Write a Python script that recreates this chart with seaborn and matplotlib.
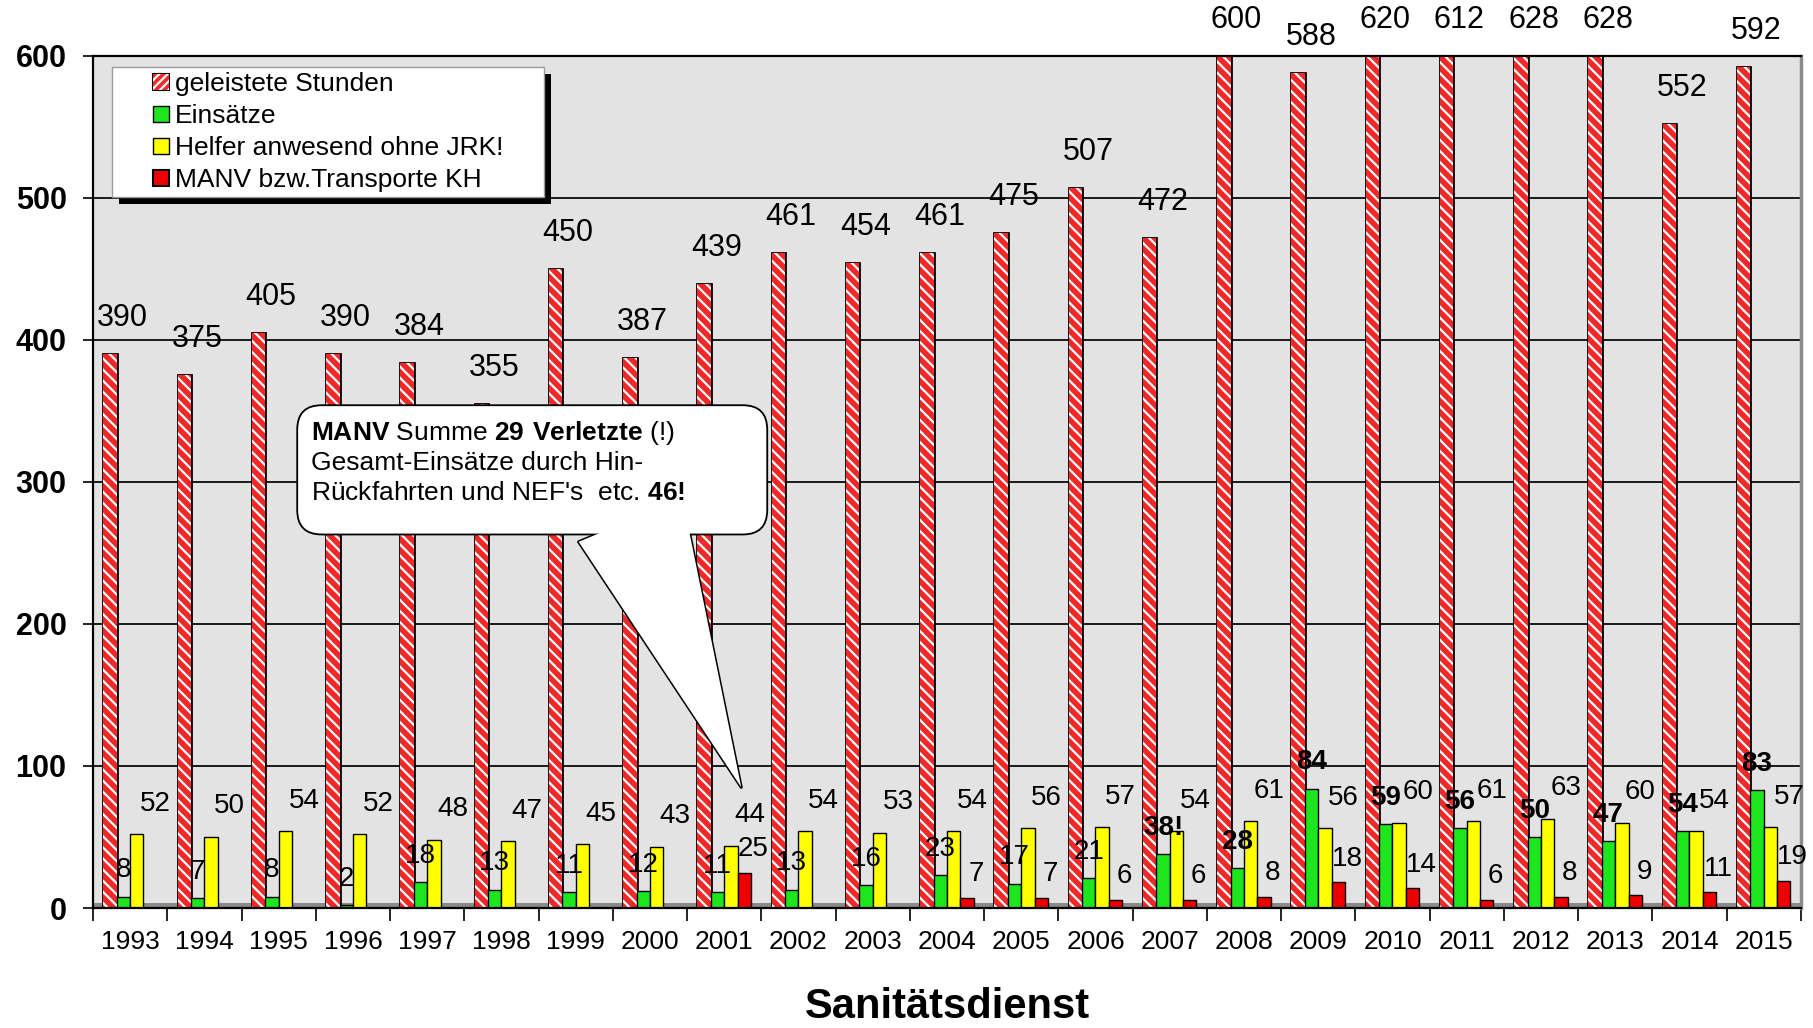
import matplotlib
matplotlib.use("Agg")
import matplotlib.pyplot as plt
import numpy as np
import pandas as pd
import seaborn as sns
from matplotlib import patheffects as pe
from matplotlib.patches import Patch, Rectangle, FancyBboxPatch
from matplotlib.legend_handler import HandlerPatch

# ---------------- data ----------------
years = ["1993", "1994", "1995", "1996", "1997", "1998", "1999", "2000", "2001", "2002",
         "2003", "2004", "2005", "2006", "2007", "2008", "2009", "2010", "2011", "2012",
         "2013", "2014", "2015"]
series = ["geleistete Stunden", "Einsätze", "Helfer anwesend ohne JRK!", "MANV bzw.Transporte KH"]
stunden = [390, 375, 405, 390, 384, 355, 450, 387, 439, 461, 454, 461, 475, 507, 472,
           600, 588, 620, 612, 628, 628, 552, 592]
einsaetze = [8, 7, 8, 2, 18, 13, 11, 12, 11, 13, 16, 23, 17, 21, 38, 28, 84, 59, 56, 50, 47, 54, 83]
einsaetze_labels = ["8", "7", "8", "2", "18", "13", "11", "12", "11", "13", "16", "23", "17",
                    "21", "38!", "28", "84", "59", "56", "50", "47", "54", "83"]
einsaetze_bold = [False, False, False, False, False, False, False, False, False, False, False,
                  False, False, False, True, True, True, True, True, True, True, True, True]
helfer = [52, 50, 54, 52, 48, 47, 45, 43, 44, 54, 53, 54, 56, 57, 54, 61, 56, 60, 61, 63, 60, 54, 57]
manv = [0, 0, 0, 0, 0, 0, 0, 0, 25, 0, 0, 7, 7, 6, 6, 8, 18, 14, 6, 8, 9, 11, 19]
yticks = [0, 100, 200, 300, 400, 500, 600]
title = "Sanitätsdienst"

df = pd.DataFrame({
    "Jahr": years * 4,
    "Serie": [s for s in series for _ in years],
    "Wert": stunden + einsaetze + helfer + manv,
})

# ---------------- style ----------------
plt.rcParams["font.family"] = ["Liberation Sans", "DejaVu Sans"]
plt.rcParams["mathtext.fontset"] = "custom"
plt.rcParams["mathtext.rm"] = "Liberation Sans"
plt.rcParams["mathtext.bf"] = "Liberation Sans:bold"
plt.rcParams["hatch.linewidth"] = 1.6

C_STD = "#f02828"
C_GREEN = "#1ee61e"
C_YELLOW = "#ffff00"
C_RED = "#ee0000"
palette = [C_STD, C_GREEN, C_YELLOW, C_RED]

W, H = 1813, 1028
fig = plt.figure(figsize=(W / 100, H / 100), dpi=100)
ax_rect = [0.0513, 0.1167, 0.942, 0.829]
ax = fig.add_axes(ax_rect)
ax.set_facecolor("#e3e3e3")

sns.barplot(data=df, x="Jahr", y="Wert", hue="Serie", order=years, hue_order=series,
            palette=palette, width=0.72, saturation=1, edgecolor="black", linewidth=1,
            errorbar=None, legend=False, ax=ax)

ax.set_xlim(-0.5, len(years) - 0.5)
ax.set_ylim(0, 600)

stroke = [pe.Stroke(linewidth=2, foreground="black"), pe.Normal()]
cont = ax.containers
for bar in cont[0]:
    bar.set_hatch("\\\\\\")
    bar.set_edgecolor("white")
    bar.set_linewidth(0)
    bar.set_path_effects(stroke)
for bar in cont[3]:
    if bar.get_height() == 0:
        bar.set_visible(False)

# floor and grid
ax.axhspan(0, 3.5, color="#8a8a8a", zorder=0.6, lw=0)
ax.set_axisbelow(True)
ax.yaxis.grid(True, color="#1a1a1a", lw=1.4)
ax.xaxis.grid(False)

# ticks
ax.set_yticks(yticks)
ax.set_yticklabels([str(t) for t in yticks], fontsize=22, fontweight="bold")
ax.tick_params(axis="y", length=7, width=1.2, pad=12)
ax.set_xticks(range(len(years)))
ax.set_xticklabels(years, fontsize=19)
ax.set_xticks(np.arange(-0.5, len(years), 1.0), minor=True)
ax.tick_params(axis="x", which="major", length=0, pad=16)
ax.tick_params(axis="x", which="minor", length=9, width=1.2)
ax.set_xlabel("")
ax.set_ylabel("")

for s in ["left", "bottom", "top"]:
    ax.spines[s].set_color("black")
    ax.spines[s].set_linewidth(1.6)
ax.spines["right"].set_color("#8a8a8a")
ax.spines["right"].set_linewidth(2.5)

# ---------------- value labels ----------------
ymax = ax.get_ylim()[1]
def bar_center(b):
    return b.get_x() + b.get_width() / 2

for b, v in zip(cont[0], stunden):
    ax.annotate(str(v), (bar_center(b) + 0.17, min(v, ymax)), xytext=(0, 26),
                textcoords="offset points", ha="center", va="center", fontsize=22,
                annotation_clip=False, zorder=8)
for b, v, t, bold in zip(cont[1], einsaetze, einsaetze_labels, einsaetze_bold):
    ax.annotate(t, (bar_center(b) + 0.0, v), xytext=(0, 19),
                textcoords="offset points", ha="center", va="center", fontsize=20,
                fontweight="bold" if bold else "normal", annotation_clip=False, zorder=8)
for b, v in zip(cont[2], helfer):
    ax.annotate(str(v), (bar_center(b) + 0.25, v), xytext=(0, 22),
                textcoords="offset points", ha="center", va="center", fontsize=20,
                annotation_clip=False, zorder=8)
for b, v in zip(cont[3], manv):
    if v > 0:
        ax.annotate(str(v), (bar_center(b) + 0.12, v), xytext=(0, 17),
                    textcoords="offset points", ha="center", va="center", fontsize=20,
                    annotation_clip=False, zorder=8)

# ---------------- legend ----------------
def square_right(legend, orig_handle, xdescent, ydescent, width, height, fontsize):
    s = height
    return Rectangle((width - s - xdescent, -ydescent), s, s)

handles = [
    Patch(facecolor=C_STD, edgecolor="white", hatch="////", linewidth=0,
          path_effects=[pe.Stroke(linewidth=1.5, foreground="black"), pe.Normal()]),
    Patch(facecolor=C_GREEN, edgecolor="black", linewidth=1),
    Patch(facecolor=C_YELLOW, edgecolor="black", linewidth=1),
    Patch(facecolor=C_RED, edgecolor="black", linewidth=1.5),
]
leg = ax.legend(handles, series, loc="upper left", bbox_to_anchor=(0.0111, 0.5, 0.253, 0.487),
                mode="expand", borderaxespad=0, borderpad=0.2, fontsize=19,
                handlelength=1.97, handleheight=0.55, handletextpad=0.2, labelspacing=0.3,
                fancybox=False, frameon=True,
                handler_map={Patch: HandlerPatch(patch_func=square_right)})
frame = leg.get_frame()
frame.set_facecolor("white")
frame.set_edgecolor("#9a9a9a")
frame.set_linewidth(1)
frame.set_alpha(1)
frame.set_path_effects([pe.SimplePatchShadow(offset=(5, -5), shadow_rgbFace="black", alpha=1),
                        pe.Normal()])
leg.set_zorder(20)

# ---------------- callout ----------------
px_x = W * ax_rect[2] / len(years)
px_y = H * ax_rect[3] / 600
box = FancyBboxPatch((2.25, 263), 6.33, 91, boxstyle="round,pad=0,rounding_size=0.33",
                     mutation_scale=1, mutation_aspect=px_x / px_y, transform=ax.transData,
                     facecolor="white", edgecolor="black", linewidth=1.3, zorder=10,
                     clip_on=False)
ax.add_patch(box)
ax.annotate("", xy=(8.23, 85), xytext=(6.74, 273), xycoords="data",
            arrowprops=dict(arrowstyle="wedge,tail_width=8.1,shrink_factor=0.5",
                            mutation_scale=10, fc="white", ec="black", lw=2.2,
                            shrinkA=0, shrinkB=0, patchA=None), zorder=9, annotation_clip=False)
ax.annotate("", xy=(8.23, 85), xytext=(6.74, 273), xycoords="data",
            arrowprops=dict(arrowstyle="wedge,tail_width=8.1,shrink_factor=0.5",
                            mutation_scale=10, fc="white", ec="none", lw=0,
                            shrinkA=0, shrinkB=0, patchA=None), zorder=11, annotation_clip=False)
lines = [r"$\mathbf{MANV}$ Summe $\mathbf{29\ Verletzte}$ (!)",
         "Gesamt-Einsätze durch Hin-",
         r"Rückfahrten und NEF's  etc. $\mathbf{46!}$"]
for i, ln in enumerate(lines):
    ax.text(2.43, 334.3 - 21.1 * i, ln, ha="left", va="center", fontsize=19, zorder=12)

fig.text(ax_rect[0] + ax_rect[2] / 2, 0.0204, title, ha="center", va="center",
         fontsize=30, fontweight="bold")

fig.savefig("out.png", dpi=100)
